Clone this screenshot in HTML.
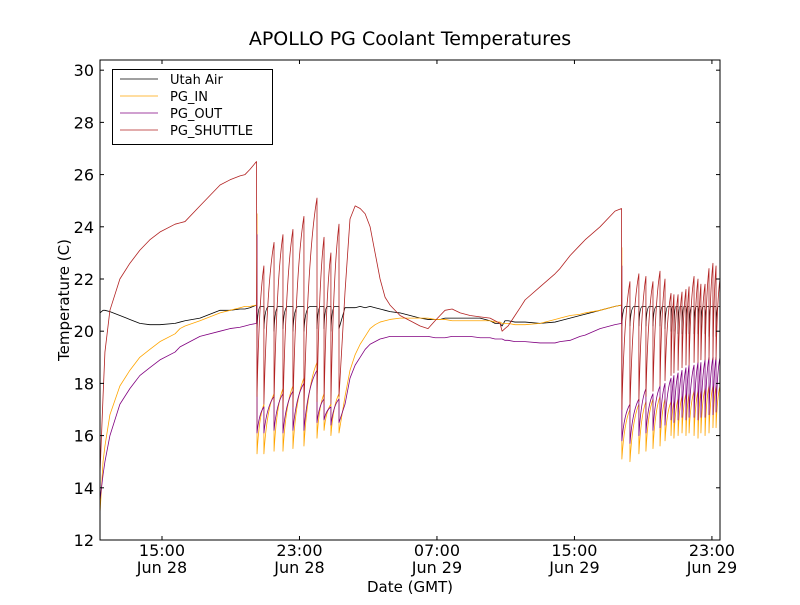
<!DOCTYPE html>
<html><head><meta charset="utf-8"><style>
body{margin:0;background:#fff}
svg text{font-family:"DejaVu Sans","Liberation Sans",sans-serif}
</style></head><body>
<svg id="chart" width="800" height="600" xmlns="http://www.w3.org/2000/svg">
<rect width="800" height="600" fill="#fff"/>
<text x="410" y="45" font-size="19" text-anchor="middle">APOLLO PG Coolant Temperatures</text>
<text x="410" y="592" font-size="15" text-anchor="middle">Date (GMT)</text>
<text transform="translate(69,300) rotate(-90)" font-size="15" text-anchor="middle">Temperature (C)</text>
<g id="plot"></g>
<g id="axes"></g>
<g>
<rect x="112.5" y="69.5" width="160" height="75" fill="#fff" stroke="#000" stroke-width="1"/>
<line x1="120" y1="79" x2="158" y2="79" stroke="#000" stroke-width="0.8"/>
<text x="170" y="84" font-size="13">Utah Air</text>
<line x1="120" y1="96" x2="158" y2="96" stroke="#FFA500" stroke-width="0.8"/>
<text x="170" y="101" font-size="13">PG_IN</text>
<line x1="120" y1="113" x2="158" y2="113" stroke="#800080" stroke-width="0.8"/>
<text x="170" y="118" font-size="13">PG_OUT</text>
<line x1="120" y1="130" x2="158" y2="130" stroke="#B22222" stroke-width="0.8"/>
<text x="170" y="135" font-size="13">PG_SHUTTLE</text>
</g>
</svg>
<script>
// time in hours since Jun 28 00:00 GMT
const yTicks=[12,14,16,18,20,22,24,26,28,30];
const xTickHours=[15,23,31,39,47];
const xTickTimes=["15:00","23:00","07:00","15:00","23:00"];
const xTickDates=["Jun 28","Jun 28","Jun 29","Jun 29","Jun 29"];
// continuous segment A
const segA_t=[11.39,11.57,11.68,11.97,12.55,13.13,13.71,14.29,14.88,15.76,16.05,16.34,17.21,18.38,18.96,19.54,19.83,20.12,20.50];
const segA_air=[20.7,20.8,20.8,20.75,20.6,20.45,20.3,20.25,20.25,20.3,20.35,20.4,20.5,20.8,20.8,20.85,20.85,20.9,21.0];
const segA_in=[13.0,15.0,15.6,16.8,17.9,18.5,19.0,19.3,19.6,19.9,20.1,20.2,20.4,20.7,20.8,20.9,20.95,20.95,21.0];
const segA_out=[13.5,14.5,15.0,16.0,17.2,17.8,18.3,18.6,18.9,19.2,19.4,19.5,19.8,20.0,20.1,20.15,20.2,20.25,20.3];
const segA_sh=[14.5,17.5,19.2,20.8,22.0,22.6,23.1,23.5,23.8,24.1,24.15,24.2,24.8,25.6,25.8,25.95,26.0,26.2,26.5];
// region 1 cycles
const c1_t=[20.53,20.93,21.52,22.04,22.62,23.26,24.02,24.43,24.83,25.30];
const c1_shLow=[17.5,17.2,17.3,17.0,17.1,17.0,17.3,17.2,17.2];
const c1_shPeak=[22.5,23.4,23.7,23.9,24.4,25.1,23.6,23.0,24.1];
const c1_inLow=[15.3,15.3,15.4,15.4,15.5,15.6,15.9,16.2,16.0];
const c1_inPeak=[17.2,17.6,17.8,17.9,18.2,18.8,17.6,17.2,17.6];
const c1_outLow=[16.1,16.1,16.2,16.1,16.2,16.2,16.5,16.6,16.4];
const c1_outPeak=[17.1,17.5,17.6,17.7,18.0,18.5,17.4,17.1,17.4];
const c1_airLow=[20.0,20.1,20.0,20.1,20.0,20.0,20.1,20.1,20.0];
// continuous segment B
const segB_t=[25.30,25.65,25.94,26.24,26.53,26.82,27.11,27.40,27.69,27.98,28.27,28.85,29.44,30.02,30.48,30.89,31.18,31.47,31.88,32.35,32.93,33.51,34.09,34.38,34.67,34.79,34.96,35.14,35.54,35.84,36.13,37.0,37.87,38.16,38.75,39.33,39.62,40.49,41.36,41.74];
const segB_air=[20.1,20.9,20.9,20.9,20.95,20.9,20.95,20.9,20.85,20.8,20.75,20.7,20.6,20.5,20.45,20.45,20.45,20.5,20.5,20.5,20.5,20.5,20.4,20.3,20.3,20.2,20.4,20.4,20.35,20.35,20.35,20.3,20.35,20.4,20.5,20.6,20.65,20.8,20.95,21.0];
const segB_in=[16.1,17.5,18.5,19.1,19.5,19.8,20.1,20.25,20.35,20.4,20.45,20.5,20.5,20.5,20.5,20.45,20.45,20.45,20.4,20.4,20.4,20.4,20.4,20.35,20.35,20.3,20.3,20.3,20.25,20.25,20.25,20.3,20.45,20.5,20.6,20.65,20.7,20.8,20.95,21.0];
const segB_out=[16.5,17.2,18.2,18.7,19.0,19.3,19.5,19.6,19.7,19.75,19.8,19.8,19.8,19.8,19.8,19.75,19.75,19.75,19.8,19.8,19.8,19.75,19.75,19.7,19.7,19.7,19.65,19.65,19.6,19.6,19.6,19.55,19.55,19.6,19.65,19.8,19.85,20.1,20.25,20.3];
const segB_sh=[17.5,21.5,24.3,24.8,24.7,24.5,24.0,23.0,22.0,21.3,21.0,20.6,20.4,20.2,20.1,20.4,20.6,20.8,20.85,20.7,20.6,20.55,20.5,20.4,20.3,20.0,20.1,20.2,20.6,20.9,21.2,21.7,22.2,22.4,22.9,23.3,23.5,24.0,24.6,24.7];
// region 2 cycles
const c2_t=[41.76,42.23,42.75,43.16,43.57,43.98,44.27,44.62,44.79,45.03,45.26,45.49,45.67,45.96,46.19,46.36,46.60,46.83,47.06,47.24,47.47];
const c2_shPeak=[21.9,22.2,22.1,21.9,22.3,22.0,21.45,21.4,21.4,21.5,21.6,21.7,22.1,22.0,21.8,21.8,22.4,22.6,22.5,22.0];
const c2_shLow=[17.0,17.0,17.3,17.5,17.7,17.9,18.1,18.3,18.4,18.5,18.6,18.7,18.7,18.8,18.8,18.9,18.9,18.9,18.9,18.9];
const c2_inLow=[15.1,15.0,15.3,15.4,15.5,15.6,15.8,16.0,15.9,16.0,16.1,16.0,16.1,16.0,15.9,16.1,16.0,16.1,16.3,16.3];
const c2_inPeak=[17.0,17.2,17.3,17.4,17.5,17.4,17.3,17.3,17.4,17.5,17.6,17.6,17.7,17.7,17.7,17.8,17.9,17.9,17.9,17.9];
const c2_outLow=[15.8,15.7,16.0,16.1,16.2,16.3,16.4,16.6,16.5,16.6,16.7,16.6,16.7,16.7,16.6,16.7,16.7,16.8,16.8,16.9];
const c2_outPeak=[17.2,17.4,17.8,17.6,17.9,18.0,18.2,18.3,18.4,18.5,18.6,18.7,18.7,18.8,18.8,18.9,19.0,19.0,19.0,19.0];
const c2_airLow=[20.2,20.2,20.2,20.2,20.2,20.2,20.1,20.0,20.0,19.9,19.9,19.9,19.9,19.9,19.9,19.9,19.9,19.8,19.8,19.8];
// spikes at valve switch
const spikeIn=[24.5,23.2], spikeOut=[23.7,22.5];

const X0=100,X1=720,Y0=540,Y1=60,T0=11.393,T1=47.47,V0=12,V1=30.39;
const xs=t=>X0+(t-T0)/(T1-T0)*(X1-X0);
const ys=v=>Y0-(v-V0)/(V1-V0)*(Y0-Y1);
const NS="http://www.w3.org/2000/svg";
const plot=document.getElementById('plot');
const axes=document.getElementById('axes');

function seg(t,v,first){let d='';for(let i=0;i<t.length;i++){d+=(first&&i===0?'M':'L')+xs(t[i]).toFixed(2)+' '+ys(v[i]).toFixed(2);}return d;}
function cycles(t,low,peak){let d='';for(let i=0;i<low.length;i++){const a=t[i],b=t[i+1];const cx=a+0.3*(b-a),cy=low[i]+0.75*(peak[i]-low[i]);d+='L'+xs(a).toFixed(2)+' '+ys(low[i]).toFixed(2)+'Q'+xs(cx).toFixed(2)+' '+ys(cy).toFixed(2)+' '+xs(b).toFixed(2)+' '+ys(peak[i]).toFixed(2);}return d;}
function airCycles(t,low){let d='';for(let i=0;i<low.length;i++){const a=t[i],b=t[i+1];const m=a+0.5*(b-a);d+='L'+xs(a).toFixed(2)+' '+ys(low[i]).toFixed(2)+'Q'+xs(a+0.1*(b-a)).toFixed(2)+' '+ys(20.95).toFixed(2)+' '+xs(m).toFixed(2)+' '+ys(20.95).toFixed(2)+'L'+xs(b).toFixed(2)+' '+ys(20.95).toFixed(2);}return d;}
function spike(t,v){return 'L'+xs(t).toFixed(2)+' '+ys(v).toFixed(2);}
function addPath(d,color,name){const p=document.createElementNS(NS,'path');p.setAttribute('d',d);p.setAttribute('fill','none');p.setAttribute('stroke',color);p.setAttribute('stroke-width','0.8');p.setAttribute('stroke-linejoin','round');


plot.appendChild(p);}

addPath(seg(segA_t,segA_air,true)+airCycles(c1_t,c1_airLow)+seg(segB_t,segB_air,false)+airCycles(c2_t,c2_airLow),'#000','series-utah-air');
addPath(seg(segA_t,segA_in,true)+spike(c1_t[0],spikeIn[0])+cycles(c1_t,c1_inLow,c1_inPeak)+seg(segB_t,segB_in,false)+spike(c2_t[0],spikeIn[1])+cycles(c2_t,c2_inLow,c2_inPeak),'#FFA500','series-pg-in');
addPath(seg(segA_t,segA_out,true)+spike(c1_t[0],spikeOut[0])+cycles(c1_t,c1_outLow,c1_outPeak)+seg(segB_t,segB_out,false)+spike(c2_t[0],spikeOut[1])+cycles(c2_t,c2_outLow,c2_outPeak),'#800080','series-pg-out');
addPath(seg(segA_t,segA_sh,true)+cycles(c1_t,c1_shLow,c1_shPeak)+seg(segB_t,segB_sh,false)+cycles(c2_t,c2_shLow,c2_shPeak),'#B22222','series-pg-shuttle');

// frame
const fr=document.createElementNS(NS,'rect');
fr.setAttribute('x',X0);fr.setAttribute('y',Y1);fr.setAttribute('width',X1-X0);fr.setAttribute('height',Y0-Y1);
fr.setAttribute('fill','none');fr.setAttribute('stroke','#000');fr.setAttribute('stroke-width','1');


axes.appendChild(fr);
function ln(x1,y1,x2,y2){const l=document.createElementNS(NS,'line');l.setAttribute('x1',x1);l.setAttribute('y1',y1);l.setAttribute('x2',x2);l.setAttribute('y2',y2);l.setAttribute('stroke','#000');l.setAttribute('stroke-width','1');


axes.appendChild(l);}
yTicks.forEach(v=>{const y=ys(v);ln(X0,y,X0+4,y);ln(X1,y,X1-4,y);
const t=document.createElementNS(NS,'text');t.setAttribute('x',X0-6);t.setAttribute('y',y+6);t.setAttribute('font-size','16');t.setAttribute('text-anchor','end');t.textContent=v;


axes.appendChild(t);});
xTickHours.forEach((h,i)=>{const x=xs(h);ln(x,Y0,x,Y0-4);ln(x,Y1,x,Y1+4);
const t=document.createElementNS(NS,'text');t.setAttribute('x',x);t.setAttribute('y',Y0+16);t.setAttribute('font-size','16');t.setAttribute('text-anchor','middle');t.textContent=xTickTimes[i];


axes.appendChild(t);
const d=document.createElementNS(NS,'text');d.setAttribute('x',x);d.setAttribute('y',Y0+33);d.setAttribute('font-size','16');d.setAttribute('text-anchor','middle');d.textContent=xTickDates[i];


axes.appendChild(d);});
</script>
</body></html>
